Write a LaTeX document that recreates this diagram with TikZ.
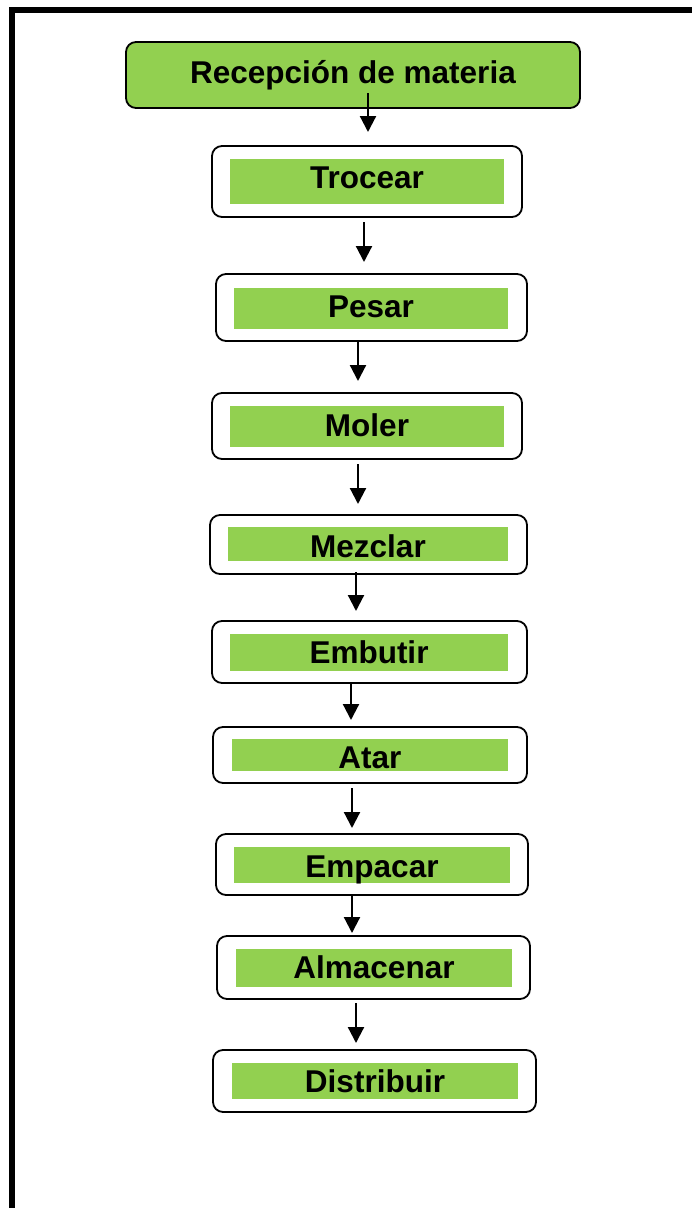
\documentclass[tikz,border=0pt]{standalone}
\usepackage{fontspec}
\setmainfont{Liberation Sans}
\usetikzlibrary{arrows.meta}
\definecolor{verde}{HTML}{92D050}
\tikzset{
  marco/.style={line width=6pt, draw=black},
  caja/.style={draw=black, line width=1.8pt, rounded corners=10pt, fill=white, inner sep=0pt},
  cajaverde/.style={caja, fill=verde},
  franja/.style={fill=verde, draw=none, inner sep=0pt},
  rotulo/.style={anchor=base, inner sep=0pt, font=\bfseries\fontsize{31.5}{36}\selectfont},
  flecha/.style={line width=2.2pt, -{Triangle[width=16pt,length=16pt]}}
}
\begin{document}
\begin{tikzpicture}[x=1pt,y=-1pt]
\useasboundingbox (0,0) rectangle (692,1208);
\fill[white] (0,0) rectangle (692,1208);
% page frame (only its top and left sides fall inside the page)
\draw[marco] (12,10) rectangle (720,1240);

% first step: a filled rounded box
\node[cajaverde, minimum width=454pt, minimum height=66pt] (rec) at (353,75) {};
\node[rotulo] (rec-t) at (353,83) {Recepción de materia};

% remaining steps: white rounded box holding a green band with the label
\foreach \n/\ax/\bx/\ay/\by/\cx/\dx/\cy/\dy/\bl/\t in {
  troc/212/522/146/217/230/504/159/204/188/Trocear,
  pes/216/527/274/341/234/508/288/329/317/Pesar,
  mol/212/522/393/459/230/504/406/447/436/Moler,
  mez/210/527/515/574/228/508/527/561/557/Mezclar,
  emb/212/527/621/683/230/508/634/671/663/Embutir,
  ata/213/527/727/783/232/508/739/771/768/Atar,
  emp/216/528/834/895/234/510/847/883/877/Empacar,
  alm/217/530/936/999/236/512/949/987/978/Almacenar,
  dis/213/536/1050/1112/232/518/1063/1099/1092/Distribuir}{
  \node[caja, minimum width={\bx-\ax}, minimum height={\by-\ay}] (\n) at ({(\ax+\bx)/2},{(\ay+\by)/2}) {};
  \node[franja, minimum width={\dx-\cx}, minimum height={\dy-\cy}] (\n-in) at ({(\cx+\dx)/2},{(\cy+\dy)/2}) {};
  \node[rotulo] (\n-t) at ({(\cx+\dx)/2},\bl) {\t};
}

% connectors between consecutive steps
\foreach \a/\b/\x/\ya/\yb in {
  rec/troc/368/93/132,
  troc/pes/364/222/262,
  pes/mol/358/342/381,
  mol/mez/358/464/504,
  mez/emb/356/572/611,
  emb/ata/351/682/720,
  ata/emp/352/788/828,
  emp/alm/352/895/933,
  alm/dis/356/1003/1043}{
  \coordinate (\a-sal) at (\x,\ya);
  \coordinate (\b-ent) at (\x,\yb);
  \draw[flecha] (\a-sal) -- (\b-ent);
}
\end{tikzpicture}
\end{document}
